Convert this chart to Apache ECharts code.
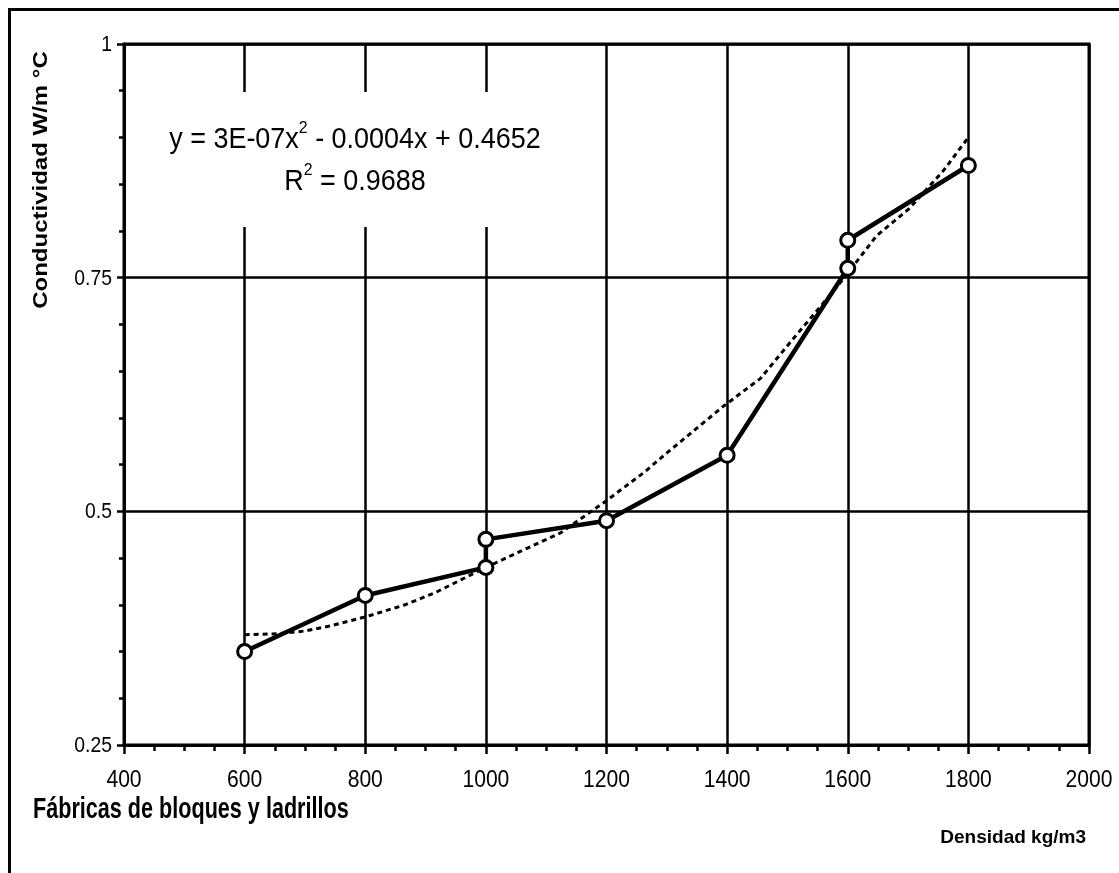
<!DOCTYPE html>
<html>
<head>
<meta charset="utf-8">
<script src="https://cdn.jsdelivr.net/npm/echarts@6/dist/echarts.min.js"></script>
<style>
html,body{margin:0;padding:0;background:#fff;}
#chart{width:1119px;height:873px;}
</style>
</head>
<body>
<div id="chart"></div>
<script>
// Measured series (density kg/m3, conductivity W/m°C)
const densidad = [600, 800, 1000, 1000, 1200, 1400, 1600, 1600, 1800];
const conductividad = [0.35, 0.41, 0.44, 0.47, 0.49, 0.56, 0.76, 0.79, 0.87];
// Trendline
const trendX = [600, 656, 700, 739, 800, 866, 916, 1000, 1070, 1124, 1197, 1263, 1301, 1395, 1455, 1510, 1565, 1593, 1648, 1702, 1758, 1800];
const trendY = [0.368, 0.369, 0.372, 0.377, 0.387, 0.400, 0.413, 0.440, 0.461, 0.477, 0.510, 0.542, 0.563, 0.613, 0.642, 0.685, 0.727, 0.749, 0.795, 0.824, 0.864, 0.900];
const xTicks = [400, 600, 800, 1000, 1200, 1400, 1600, 1800, 2000];
const yTicks = [0.25, 0.5, 0.75, 1];
const xTickLabels = ['400', '600', '800', '1000', '1200', '1400', '1600', '1800', '2000'];
const yTickLabels = ['0.25', '0.5', '0.75', '1'];
const titleText = 'Fábricas de bloques y ladrillos';
const xName = 'Densidad kg/m3';
const yName = 'Conductividad W/m °C';
const eqLine1 = ['y = 3E-07x', '2', ' - 0.0004x + 0.4652'];
const eqLine2 = ['R', '2', ' = 0.9688'];

const FONT = "'Liberation Sans',Arial,sans-serif";
const chart = echarts.init(document.getElementById('chart'), null, {renderer: 'canvas'});

const mainData = densidad.map((d, i) => [d, conductividad[i]]);
const trendData = trendX.map((d, i) => [d, trendY[i]]);

const baseGraphics = [
  {type: 'rect', left: 8, top: 8, z: 0, silent: true,
    shape: {width: 1200, height: 1000},
    style: {fill: 'transparent', stroke: '#000', lineWidth: 3}},
  {type: 'rect', left: 150, top: 92, z: 50, silent: true,
    shape: {width: 410, height: 135}, style: {fill: '#fff'}},
  {type: 'text', x: 355, y: 137, z: 51, silent: true, scaleX: 0.93,
    style: {
      text: '{a|' + eqLine1[0] + '}{s|' + eqLine1[1] + '}{a|' + eqLine1[2] + '}',
      align: 'center', verticalAlign: 'middle',
      rich: {
        a: {fontFamily: FONT, fontSize: 29, color: '#000', lineHeight: 34, verticalAlign: 'bottom'},
        s: {fontFamily: FONT, fontSize: 17, color: '#000', lineHeight: 34, verticalAlign: 'top'}
      }
    }},
  {type: 'text', x: 355, y: 179, z: 51, silent: true, scaleX: 0.93,
    style: {
      text: '{a|' + eqLine2[0] + '}{s|' + eqLine2[1] + '}{a|' + eqLine2[2] + '}',
      align: 'center', verticalAlign: 'middle',
      rich: {
        a: {fontFamily: FONT, fontSize: 29, color: '#000', lineHeight: 34, verticalAlign: 'bottom'},
        s: {fontFamily: FONT, fontSize: 17, color: '#000', lineHeight: 34, verticalAlign: 'top'}
      }
    }},
  {type: 'text', x: 41, y: 180, rotation: Math.PI / 2, scaleX: 1.2, z: 51, silent: true,
    style: {text: yName, fontFamily: FONT, fontWeight: 'bold', fontSize: 20,
      fill: '#000', align: 'center', verticalAlign: 'middle'}},
  {type: 'text', x: 33, y: 810, scaleX: 0.72, z: 51, silent: true,
    style: {text: titleText, fontFamily: FONT, fontWeight: 'bold', fontSize: 30,
      fill: '#000', align: 'left', verticalAlign: 'middle'}},
  {type: 'text', x: 1086, y: 838, z: 51, silent: true,
    style: {text: xName, fontFamily: FONT, fontWeight: 'bold', fontSize: 19,
      fill: '#000', align: 'right', verticalAlign: 'middle'}}
];

chart.setOption({
  backgroundColor: '#fff',
  animation: false,
  grid: {left: 124, right: 30, top: 44, bottom: 128, show: true, borderColor: '#000', borderWidth: 3, containLabel: false},
  xAxis: {
    type: 'value', min: xTicks[0], max: xTicks[xTicks.length - 1], interval: 200,
    axisLine: {show: true, lineStyle: {color: '#000', width: 3}},
    axisTick: {show: true, inside: false, length: 9, lineStyle: {color: '#000', width: 2.5}},
    minorTick: {show: true, splitNumber: 4, length: 6, lineStyle: {color: '#000', width: 2.5}},
    axisLabel: {show: false},
    splitLine: {show: true, lineStyle: {color: '#000', width: 2.5}}
  },
  yAxis: {
    type: 'value', min: yTicks[0], max: yTicks[yTicks.length - 1], interval: 0.25,
    axisLine: {show: true, lineStyle: {color: '#000', width: 3}},
    axisTick: {show: true, inside: false, length: 7, lineStyle: {color: '#000', width: 2.5}},
    minorTick: {show: true, splitNumber: 5, length: 5, lineStyle: {color: '#000', width: 2.5}},
    axisLabel: {show: false},
    splitLine: {show: true, lineStyle: {color: '#000', width: 2.5}}
  },
  series: [
    {
      type: 'line', name: 'trend', data: trendData, showSymbol: false, symbol: 'none', z: 2,
      lineStyle: {color: '#000', width: 3, type: [5, 4]}, silent: true
    },
    {
      type: 'line', name: 'datos', data: mainData, z: 3,
      symbol: 'circle', symbolSize: 14,
      lineStyle: {color: '#000', width: 4.5},
      itemStyle: {color: '#fff', borderColor: '#000', borderWidth: 3}
    }
  ],
  graphic: baseGraphics
});

// Tick labels placed through the chart's own axis scales
const labelGraphics = [];
xTicks.forEach((v, i) => {
  const p = chart.convertToPixel({gridIndex: 0}, [v, yTicks[0]]);
  labelGraphics.push({type: 'text', x: p[0], y: p[1] + 35, scaleX: 0.88, z: 51, silent: true,
    style: {text: xTickLabels[i], fontFamily: FONT, fontSize: 24, fill: '#000', align: 'center', verticalAlign: 'middle'}});
});
yTicks.forEach((v, i) => {
  const p = chart.convertToPixel({gridIndex: 0}, [xTicks[0], v]);
  labelGraphics.push({type: 'text', x: p[0] - 12, y: p[1] + 1, scaleX: 0.88, z: 51, silent: true,
    style: {text: yTickLabels[i], fontFamily: FONT, fontSize: 22, fill: '#000', align: 'right', verticalAlign: 'middle'}});
});
chart.setOption({graphic: baseGraphics.concat(labelGraphics)}, {replaceMerge: ['graphic']});
</script>
</body>
</html>
